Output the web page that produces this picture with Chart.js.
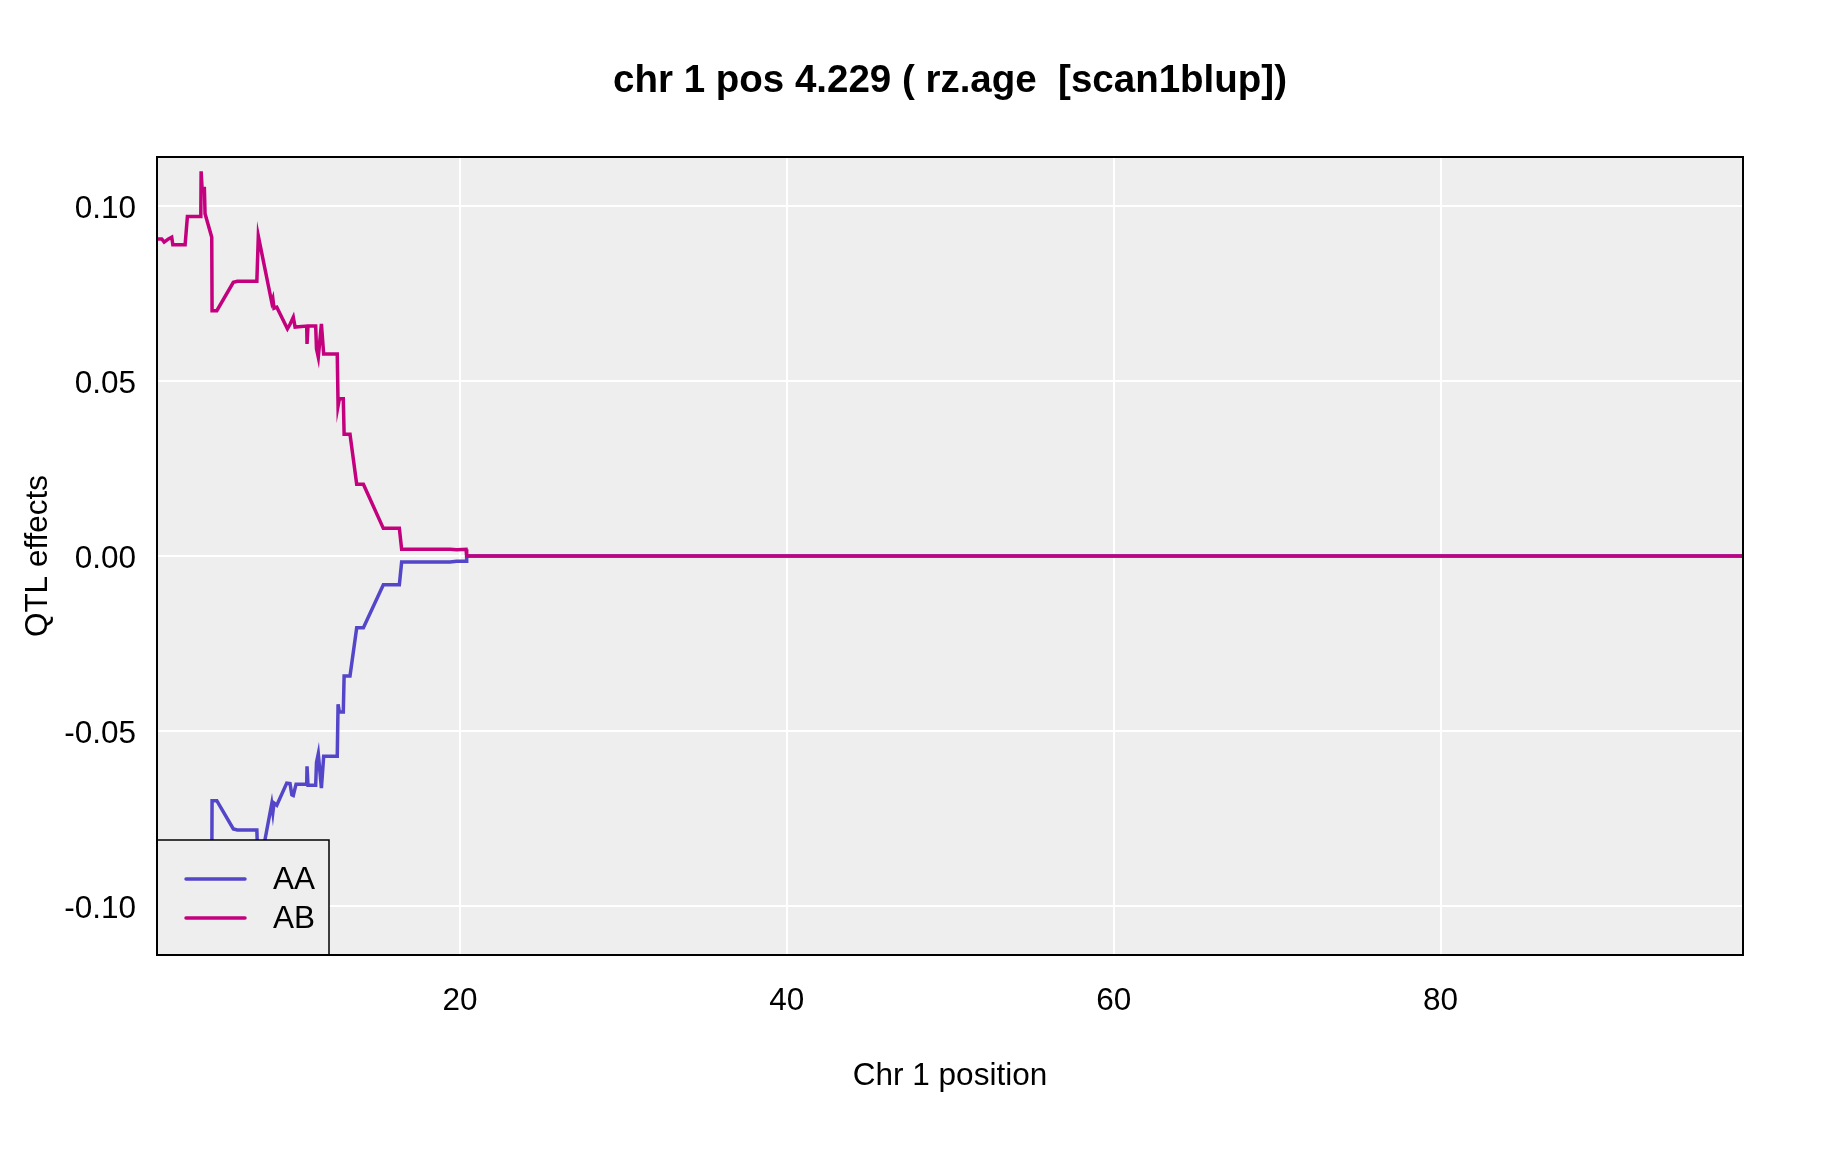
<!DOCTYPE html>
<html>
<head>
<meta charset="utf-8">
<script src="https://cdn.jsdelivr.net/npm/chart.js@4/dist/chart.umd.min.js"></script>
<style>
  html, body { margin: 0; padding: 0; background: #ffffff; }
  #c { display: block; }
</style>
</head>
<body>
<canvas id="c" width="1824" height="1152"></canvas>
<script>
// ---- data ----
const posAB = [1.46, 1.75, 1.90, 2.16, 2.36, 2.43, 3.18, 3.32, 4.14, 4.16, 4.22, 4.36, 4.40, 4.81, 4.83, 5.12, 6.13, 6.38, 7.57, 7.66, 8.48, 8.55, 8.62, 8.79, 9.44, 9.60, 9.80, 9.91, 10.62, 10.64, 10.70, 11.17, 11.22, 11.33, 11.52, 11.66, 12.49, 12.54, 12.62, 12.86, 12.91, 13.27, 13.68, 14.09, 15.31, 16.29, 16.43, 19.39, 19.80, 20.37, 20.41, 98.51];
const effAB = [0.0906, 0.0906, 0.0897, 0.0906, 0.0911, 0.0889, 0.0889, 0.0970, 0.0970, 0.1099, 0.1050, 0.1050, 0.0978, 0.0911, 0.0701, 0.0701, 0.0782, 0.0785, 0.0785, 0.0914, 0.0725, 0.0735, 0.0708, 0.0711, 0.0649, 0.0662, 0.0682, 0.0654, 0.0657, 0.0606, 0.0657, 0.0657, 0.0592, 0.0568, 0.0663, 0.0577, 0.0577, 0.0429, 0.0449, 0.0449, 0.0348, 0.0348, 0.0205, 0.0205, 0.0079, 0.0079, 0.0019, 0.0019, 0.0018, 0.0019, 0.0000, 0.0000];
const posAA = [1.46, 1.75, 1.90, 2.16, 2.36, 2.43, 3.18, 3.32, 4.14, 4.16, 4.22, 4.36, 4.40, 4.81, 4.83, 5.12, 6.13, 6.38, 7.57, 7.66, 8.48, 8.55, 8.62, 8.79, 9.40, 9.60, 9.71, 9.80, 9.97, 10.62, 10.64, 10.70, 11.17, 11.22, 11.33, 11.52, 11.66, 12.49, 12.54, 12.62, 12.86, 12.91, 13.27, 13.68, 14.09, 15.31, 16.29, 16.43, 19.39, 19.80, 20.37, 20.41, 98.51];
const effAA = [-0.0906, -0.0906, -0.0897, -0.0906, -0.0911, -0.0889, -0.0889, -0.0970, -0.0970, -0.1099, -0.1050, -0.1050, -0.0978, -0.0911, -0.0699, -0.0699, -0.0780, -0.0783, -0.0783, -0.0912, -0.0708, -0.0733, -0.0706, -0.0712, -0.0649, -0.0650, -0.0682, -0.0684, -0.0652, -0.0652, -0.0601, -0.0655, -0.0655, -0.0590, -0.0565, -0.0663, -0.0572, -0.0572, -0.0424, -0.0446, -0.0446, -0.0343, -0.0343, -0.0205, -0.0205, -0.0082, -0.0082, -0.0017, -0.0017, -0.0015, -0.0015, 0.0000, 0.0000];
const seriesNames = ['AA', 'AB'];
const seriesColors = ['#5446c8', '#c3007d'];
const xTicks = [20, 40, 60, 80];
const yTicks = [-0.10, -0.05, 0.00, 0.05, 0.10];
const yTickLabels = ['-0.10', '-0.05', '0.00', '0.05', '0.10'];
const titleText = 'chr 1 pos 4.229 ( rz.age  [scan1blup])';
const xTitle = 'Chr 1 position';
const yTitle = 'QTL effects';

const FONT = '"Liberation Sans", Arial, Helvetica, sans-serif';
const BASE = 31.5;

const toPts = (xs, ys) => xs.map((x, i) => ({ x: x, y: ys[i] }));

const bgPlugin = {
  id: 'panelBg',
  beforeDraw(chart) {
    const { ctx, chartArea: a } = chart;
    ctx.save();
    ctx.fillStyle = '#eeeeee';
    ctx.fillRect(a.left, a.top, a.right - a.left, a.bottom - a.top);
    ctx.restore();
  },
  afterDatasetsDraw(chart) {
    // legend box in the lower-left corner of the panel
    const { ctx, chartArea: a } = chart;
    const bx = a.left, by = a.bottom - 115, bw = 172, bh = 115;
    ctx.save();
    ctx.fillStyle = '#eeeeee';
    ctx.fillRect(bx, by, bw, bh);
    ctx.strokeStyle = '#000000';
    ctx.lineWidth = 1.5;
    ctx.strokeRect(bx, by, bw, bh);
    ctx.font = BASE + 'px ' + FONT;
    ctx.textBaseline = 'middle';
    ctx.textAlign = 'left';
    const rows = [by + 39, by + 78];
    seriesNames.forEach((n, i) => {
      ctx.strokeStyle = seriesColors[i];
      ctx.lineWidth = 3.5;
      ctx.lineCap = 'round';
      ctx.beginPath();
      ctx.moveTo(bx + 29, rows[i]);
      ctx.lineTo(bx + 88, rows[i]);
      ctx.stroke();
      ctx.fillStyle = '#000000';
      ctx.fillText(n, bx + 116, rows[i] + 1);
    });
    ctx.restore();
  },
  afterDraw(chart) {
    const { ctx, chartArea: a } = chart;
    ctx.save();
    ctx.strokeStyle = '#000000';
    ctx.lineWidth = 2;
    ctx.strokeRect(a.left, a.top, a.right - a.left, a.bottom - a.top);
    ctx.restore();
  }
};

new Chart(document.getElementById('c'), {
  type: 'line',
  data: {
    datasets: [
      { label: seriesNames[0], data: toPts(posAA, effAA), borderColor: seriesColors[0], borderWidth: 3.5, pointRadius: 0, tension: 0, fill: false, order: 1 },
      { label: seriesNames[1], data: toPts(posAB, effAB), borderColor: seriesColors[1], borderWidth: 3.5, pointRadius: 0, tension: 0, fill: false, order: 0 }
    ]
  },
  options: {
    responsive: false,
    animation: false,
    devicePixelRatio: 1,
    layout: { padding: { left: 0, right: 81, top: 0, bottom: 0 } },
    plugins: {
      legend: { display: false },
      tooltip: { enabled: false },
      title: {
        display: true,
        fullSize: false,
        text: titleText,
        color: '#000000',
        font: { family: FONT, size: 38.5, weight: 'bold', lineHeight: 1.2 },
        padding: { top: 58.3, bottom: 52.5 }
      }
    },
    scales: {
      x: {
        type: 'linear',
        min: 1.46,
        max: 98.51,
        afterBuildTicks: (s) => { s.ticks = xTicks.map(v => ({ value: v })); },
        afterFit: (s) => { s.height = 197; },
        grid: { color: '#ffffff', lineWidth: 2, drawTicks: false },
        border: { display: false },
        ticks: { color: '#000000', font: { family: FONT, size: BASE }, padding: 27, maxRotation: 0, callback: (v) => String(v) },
        title: { display: true, text: xTitle, color: '#000000', font: { family: FONT, size: BASE, lineHeight: 1.2 }, padding: { top: 0, bottom: 57 } }
      },
      y: {
        type: 'linear',
        min: -0.114,
        max: 0.114,
        afterBuildTicks: (s) => { s.ticks = yTicks.map(v => ({ value: v })); },
        afterFit: (s) => { s.width = 157; },
        grid: { color: '#ffffff', lineWidth: 2, drawTicks: false },
        border: { display: false },
        ticks: {
          color: '#000000', font: { family: FONT, size: BASE }, padding: 21, labelOffset: 3,
          callback: (v) => { const i = yTicks.findIndex(t => Math.abs(t - v) < 1e-9); return i >= 0 ? yTickLabels[i] : ''; }
        },
        title: { display: true, text: yTitle, color: '#000000', font: { family: FONT, size: BASE, lineHeight: 1.2 }, padding: { top: 19.5, bottom: 0 } }
      }
    }
  },
  plugins: [bgPlugin]
});
</script>
</body>
</html>
